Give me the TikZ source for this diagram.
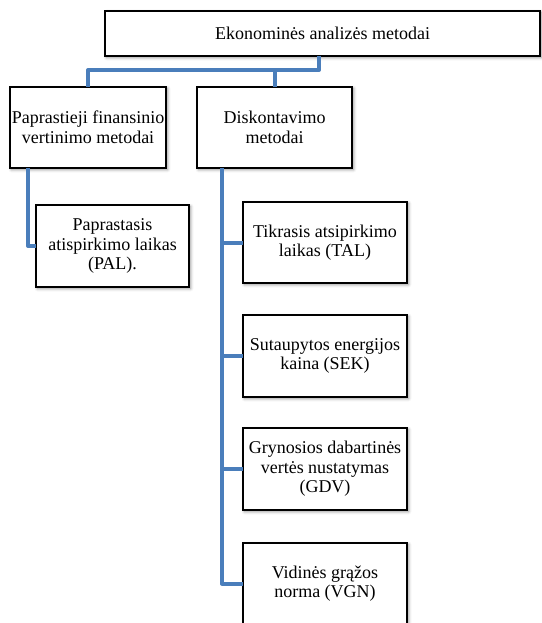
\documentclass[tikz,border=0pt]{standalone}
\usepackage{fontspec}
\setmainfont{Liberation Serif}
\usetikzlibrary{shadows.blur,calc}
\definecolor{connblue}{HTML}{4A7EBB}
\begin{document}
\begin{tikzpicture}[x=1pt,y=-1pt,
  box/.style={draw=black, line width=2.4pt, fill=white, inner sep=0pt, outer sep=0pt,
    align=center, font=\fontsize{18}{19.5}\selectfont,
    blur shadow={shadow xshift=1.5pt, shadow yshift=-1.5pt, shadow blur radius=3pt, shadow opacity=45}},
  conn/.style={draw=connblue, line width=4pt, line join=round}]
\useasboundingbox (0,0) rectangle (541,623);
% boxes
\node[box, minimum width=435pt, minimum height=45pt] (top) at (322.5,33.5) {Ekonominės analizės metodai};
\node[box, minimum width=156pt, minimum height=81pt] (pf) at (88,127.5) {Paprastieji finansinio\\vertinimo metodai};
\node[box, minimum width=155pt, minimum height=81pt] (disk) at (274.5,127.5) {Diskontavimo\\metodai};
\node[box, minimum width=153pt, minimum height=82pt] (pal) at (112.5,246) {Paprastasis\\atispirkimo laikas\\(PAL).};
\node[box, minimum width=164pt, minimum height=81pt] (tal) at (325,242.5) {Tikrasis atsipirkimo\\laikas (TAL)};
\node[box, minimum width=164pt, minimum height=82pt] (sek) at (325,356) {Sutaupytos energijos\\kaina (SEK)};
\node[box, minimum width=164pt, minimum height=82pt] (gdv) at (325,469) {Grynosios dabartinės\\vertės nustatymas\\(GDV)};
\node[box, minimum width=164pt, minimum height=81pt] (vgn) at (325,583.5) {Vidinės grąžos\\norma (VGN)};
% connectors
\coordinate (j) at (319,70);
\coordinate (ls) at (28,168);
\coordinate (rs) at (222,168);
\draw[conn] (top.south -| j) -- (j) -| (pf.north);
\draw[conn] (j) -| (disk.north);
\draw[conn] (ls) |- (pal.west);
\draw[conn] (rs) |- (vgn.west);
\draw[conn] (rs) |- (tal.west);
\draw[conn] (rs) |- (sek.west);
\draw[conn] (rs) |- (gdv.west);
\end{tikzpicture}
\end{document}
